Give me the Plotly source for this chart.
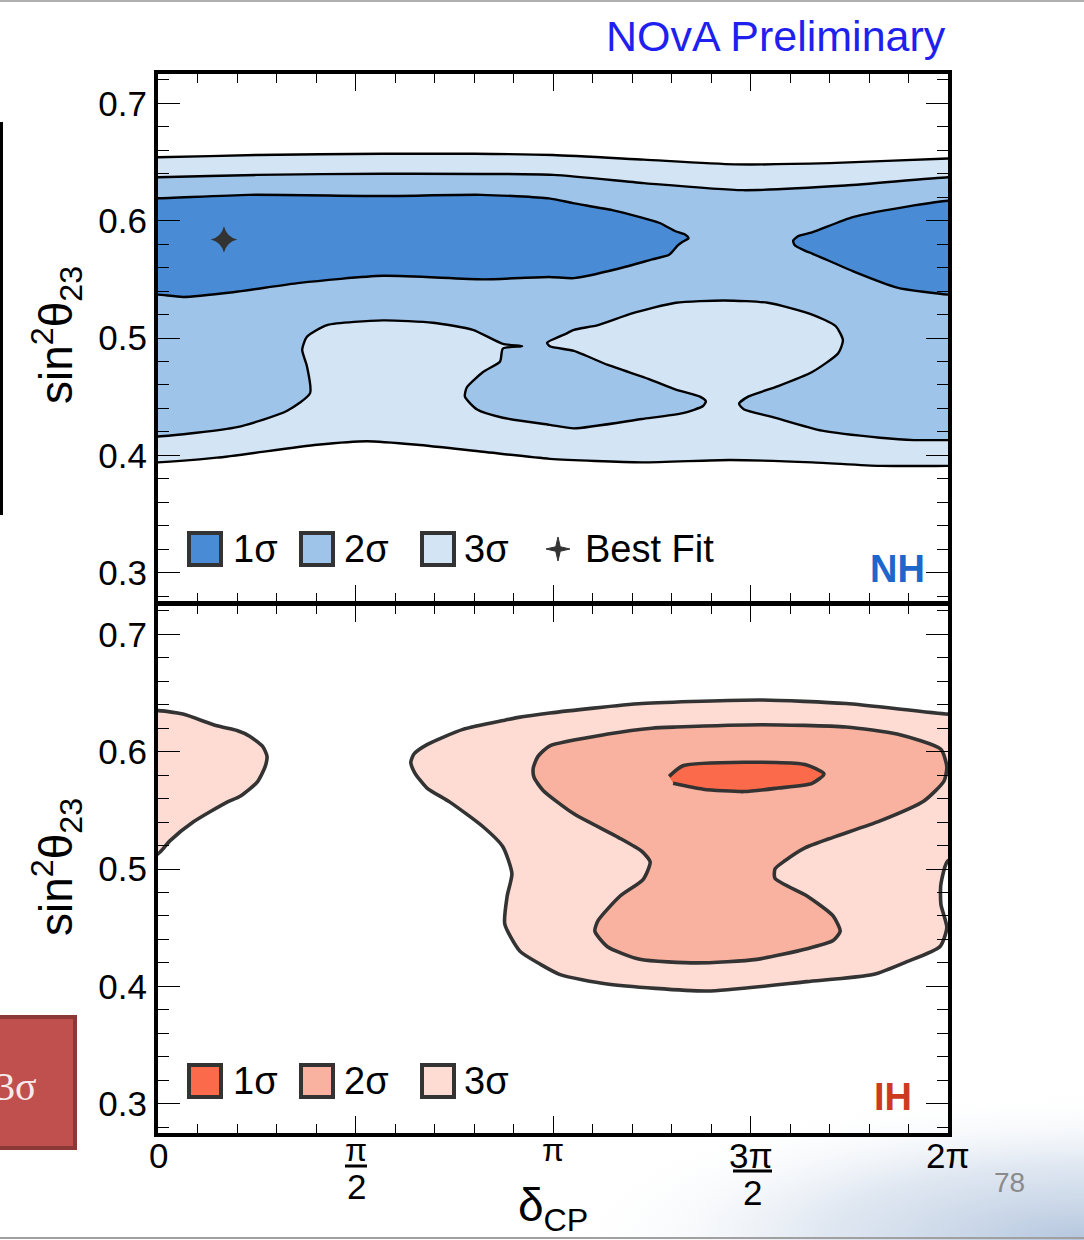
import base64
import math
import plotly.graph_objects as go

W, H = 1084, 1240

# ---------------- data (delta_CP in units of pi, sin^2 theta_23) ----------------
# Normal hierarchy
NH_3SIG_LOW_X = [0.0, 0.149, 0.403, 0.529, 0.656, 0.823, 0.992, 1.225, 1.448, 1.656, 1.828, 2.0]
NH_3SIG_LOW_Y = [0.394, 0.398, 0.409, 0.412, 0.409, 0.403, 0.397, 0.394, 0.396, 0.394, 0.391, 0.391]
NH_3SIG_UP_X = [0.0, 0.25, 0.57, 0.80, 1.0, 1.23, 1.46, 1.70, 2.0]
NH_3SIG_UP_Y = [0.654, 0.656, 0.657, 0.657, 0.656, 0.652, 0.648, 0.649, 0.653]

NH_2SIG_UP_X = [0.0, 0.25, 0.57, 1.0, 1.23, 1.48, 1.74, 2.0]
NH_2SIG_UP_Y = [0.637, 0.639, 0.640, 0.639, 0.632, 0.626, 0.630, 0.637]
NH_2SIG_LOW_X = [0.0, 0.200, 0.327, 0.385, 0.377, 0.365, 0.377, 0.428, 0.570, 0.696, 0.797, 0.873, 0.922,
                 0.873, 0.866, 0.823, 0.782, 0.777, 0.808, 0.873, 0.992, 1.053, 1.225, 1.329, 1.380, 1.387,
                 1.372, 1.311, 1.243, 1.139, 1.053, 0.992, 0.985,
                 1.035, 1.053, 1.114, 1.200, 1.311, 1.433, 1.544, 1.656, 1.716, 1.734, 1.722, 1.656, 1.570,
                 1.494, 1.471, 1.484, 1.552, 1.681, 1.828, 1.914, 2.0]
NH_2SIG_LOW_Y = [0.416, 0.424, 0.438, 0.453, 0.476, 0.490, 0.501, 0.511, 0.515, 0.513, 0.507, 0.495, 0.493,
                 0.491, 0.480, 0.471, 0.458, 0.450, 0.439, 0.432, 0.426, 0.423, 0.431, 0.436, 0.442, 0.446,
                 0.450, 0.456, 0.465, 0.477, 0.489, 0.493, 0.496,
                 0.504, 0.507, 0.511, 0.521, 0.530, 0.532, 0.530, 0.520, 0.510, 0.498, 0.487, 0.471, 0.459,
                 0.450, 0.444, 0.439, 0.433, 0.421, 0.415, 0.413, 0.413]

NH_1SIG_L_X = [0.0, 0.23, 0.57, 0.82, 0.99, 1.05, 1.15, 1.22, 1.27, 1.31, 1.335, 1.343,
               1.328, 1.316, 1.294, 1.251, 1.165, 1.053, 0.99, 0.823, 0.570, 0.359, 0.190, 0.063, 0.0]
NH_1SIG_L_Y = [0.619, 0.622, 0.621, 0.622, 0.619, 0.615, 0.609, 0.603, 0.598, 0.591, 0.588, 0.585,
               0.582, 0.579, 0.571, 0.567, 0.559, 0.551, 0.552, 0.550, 0.553, 0.547, 0.539, 0.535, 0.537]
NH_1SIG_R_X = [2.0, 1.914, 1.759, 1.656, 1.622, 1.608, 1.612, 1.640, 1.656, 1.759, 1.871, 2.0]
NH_1SIG_R_Y = [0.617, 0.613, 0.603, 0.590, 0.587, 0.583, 0.579, 0.574, 0.572, 0.557, 0.543, 0.537]

NH_BEST_X = [0.167]
NH_BEST_Y = [0.584]

# Inverted hierarchy
IH_3SIG_L_X = [0.0, 0.063, 0.149, 0.200, 0.233, 0.266, 0.276, 0.271, 0.251, 0.208, 0.175, 0.089, 0.030, 0.0]
IH_3SIG_L_Y = [0.635, 0.632, 0.622, 0.618, 0.613, 0.604, 0.596, 0.587, 0.574, 0.562, 0.557, 0.540, 0.524, 0.513]
IH_3SIG_M_X = [0.909, 0.992, 1.225, 1.527, 1.742, 2.0,
               2.0, 1.982, 1.982, 1.997, 1.980, 1.896, 1.810, 1.643, 1.390, 1.137, 1.018, 0.967, 0.916,
               0.878, 0.884, 0.896, 0.873, 0.823, 0.739, 0.681, 0.650, 0.640, 0.648, 0.681, 0.772, 0.880]
IH_3SIG_M_Y = [0.629, 0.633, 0.641, 0.644, 0.641, 0.632,
               0.507, 0.487, 0.470, 0.450, 0.434, 0.421, 0.410, 0.404, 0.396, 0.402, 0.410, 0.419, 0.430,
               0.453, 0.477, 0.496, 0.519, 0.536, 0.557, 0.569, 0.582, 0.591, 0.598, 0.606, 0.619, 0.627]
IH_2SIG_X = [1.311, 1.527, 1.742, 1.871, 1.982, 1.997, 1.99,
             1.939, 1.828, 1.709, 1.638, 1.587, 1.562, 1.562, 1.643, 1.709, 1.727, 1.709, 1.643, 1.516,
             1.365, 1.220, 1.137, 1.106, 1.114, 1.170, 1.228, 1.246, 1.225, 1.165, 1.053, 0.975, 0.952,
             0.950, 0.962, 0.992, 1.139, 1.250]
IH_2SIG_Y = [0.621, 0.623, 0.621, 0.615, 0.602, 0.587, 0.575,
             0.558, 0.541, 0.527, 0.518, 0.507, 0.500, 0.492, 0.477, 0.460, 0.447, 0.439, 0.432, 0.423,
             0.420, 0.423, 0.434, 0.447, 0.456, 0.477, 0.491, 0.506, 0.515, 0.527, 0.547, 0.567, 0.578,
             0.586, 0.596, 0.605, 0.615, 0.620]
IH_1SIG_X = [1.294, 1.329, 1.484, 1.638, 1.686, 1.656, 1.570, 1.484, 1.380, 1.304]
IH_1SIG_Y = [0.579, 0.588, 0.591, 0.589, 0.581, 0.573, 0.569, 0.566, 0.568, 0.573]

X_TICKS = [0, 0.5, 1, 1.5, 2]
Y_TICKS = [0.3, 0.4, 0.5, 0.6, 0.7]
Y_TICK_TEXT = ["0.3", "0.4", "0.5", "0.6", "0.7"]
LEGEND_LABELS = ["1σ", "2σ", "3σ"]
NH_COLORS = ["#4a8bd5", "#9fc4e9", "#d3e4f5"]
IH_COLORS = ["#fb6a4a", "#fab2a0", "#fedbd3"]

FONT = "Liberation Sans, Arial, Helvetica, sans-serif"
X_MIN, X_MAX = 0.0, 2.0


def px(x):
    return x / W


def py(y):
    return 1 - y / H


def on_edge(v):
    return v <= X_MIN or v >= X_MAX


def outward(v):
    return X_MIN - 0.06 if v <= X_MIN else X_MAX + 0.06


def extend_edges(xs, ys):
    # add a copy just outside the frame next to every edge point, so that the
    # outline continues straight out of the plot and the frame hides the seam
    n = len(xs)
    ox, oy = [], []
    for i in range(n):
        x, y = xs[i], ys[i]
        if not on_edge(x):
            ox.append(x); oy.append(y)
            continue
        prev_in = not on_edge(xs[(i - 1) % n])
        next_in = not on_edge(xs[(i + 1) % n])
        if prev_in and next_in:
            ox.append(x); oy.append(y)
        elif prev_in:
            ox += [x, outward(x)]; oy += [y, y]
        elif next_in:
            ox += [outward(x), x]; oy += [y, y]
        else:
            ox.append(outward(x)); oy.append(y)
    return ox, oy


fig = go.Figure()


def poly(xs, ys, fill, lc, lw, xa, ya):
    ex, ey = extend_edges(xs, ys)
    fig.add_trace(go.Scatter(
        x=ex, y=ey, fill="toself", fillcolor=fill, mode="lines",
        line=dict(color=lc, width=lw, shape="spline", smoothing=0.6),
        xaxis=xa, yaxis=ya, hoverinfo="skip", showlegend=False))


# NH panel (top)
poly(NH_3SIG_LOW_X + NH_3SIG_UP_X[::-1], NH_3SIG_LOW_Y + NH_3SIG_UP_Y[::-1], NH_COLORS[2], "black", 2.4, "x", "y")
poly(NH_2SIG_LOW_X + NH_2SIG_UP_X[::-1], NH_2SIG_LOW_Y + NH_2SIG_UP_Y[::-1], NH_COLORS[1], "black", 2.4, "x", "y")
poly(NH_1SIG_L_X, NH_1SIG_L_Y, NH_COLORS[0], "black", 2.4, "x", "y")
poly(NH_1SIG_R_X, NH_1SIG_R_Y, NH_COLORS[0], "black", 2.4, "x", "y")
fig.add_trace(go.Scatter(x=NH_BEST_X, y=NH_BEST_Y, mode="markers",
                         marker=dict(symbol="star-diamond", size=19, color="#333333"),
                         xaxis="x", yaxis="y", hoverinfo="skip", showlegend=False))

# IH panel (bottom)
poly(IH_3SIG_L_X, IH_3SIG_L_Y, IH_COLORS[2], "#333333", 3.6, "x2", "y2")
poly(IH_3SIG_M_X + IH_3SIG_M_X[:1], IH_3SIG_M_Y + IH_3SIG_M_Y[:1], IH_COLORS[2], "#333333", 3.6, "x2", "y2")
poly(IH_2SIG_X + IH_2SIG_X[:1], IH_2SIG_Y + IH_2SIG_Y[:1], IH_COLORS[1], "#333333", 3.6, "x2", "y2")
poly(IH_1SIG_X, IH_1SIG_Y, IH_COLORS[0], "#333333", 3.6, "x2", "y2")

xcommon = dict(range=[X_MIN, X_MAX], showline=True, linewidth=4, linecolor="black", mirror="ticks",
               ticks="inside", tickvals=X_TICKS, ticklen=17, tickwidth=1.3, tickcolor="black",
               showticklabels=False, showgrid=False, zeroline=False, fixedrange=True,
               minor=dict(dtick=0.1, tick0=0, ticks="inside", ticklen=9, tickwidth=1.3,
                          tickcolor="black", showgrid=False),
               domain=[px(158), px(948)])
ycommon = dict(range=[0.275, 0.725], showline=True, linewidth=4, linecolor="black", mirror="ticks",
               ticks="inside", tickvals=Y_TICKS, ticktext=Y_TICK_TEXT, ticklen=22, tickwidth=1.3,
               tickcolor="black", showgrid=False, zeroline=False, fixedrange=True,
               tickfont=dict(family=FONT, size=35, color="black"),
               minor=dict(dtick=0.02, tick0=0.3, ticks="inside", ticklen=11, tickwidth=1.3,
                          tickcolor="black", showgrid=False))

fig.update_layout(
    width=W, height=H, margin=dict(l=0, r=0, t=0, b=0),
    paper_bgcolor="white", plot_bgcolor="white", showlegend=False,
    xaxis=dict(xcommon, anchor="y"),
    yaxis=dict(ycommon, anchor="x", domain=[py(602), py(74)]),
    xaxis2=dict(xcommon, anchor="y2"),
    yaxis2=dict(ycommon, anchor="x2", domain=[py(1133), py(605)]),
)

ann = []
shapes = []


def text(x, y, s, size, color="black", xanchor="center", angle=0, family=FONT):
    ann.append(dict(x=px(x), y=py(y), xref="paper", yref="paper", text=s, showarrow=False,
                    xanchor=xanchor, yanchor="middle", textangle=angle,
                    font=dict(family=family, size=size, color=color)))


text(948, 36, "NOvA Preliminary", 43, color="#1f1fef", xanchor="right")
text(56, 335, "sin<sup>2</sup>θ<sub>23</sub>", 46, angle=-90)
text(56, 867, "sin<sup>2</sup>θ<sub>23</sub>", 46, angle=-90)
text(927, 569, "<b>NH</b>", 38, color="#1e66cc", xanchor="right")
text(914, 1097, "<b>IH</b>", 38, color="#cc3b1f", xanchor="right")

# x tick labels
text(158, 1155, "0", 35)
text(356, 1150, "π", 32)
text(356, 1186, "2", 35)
text(553, 1150, "π", 32)
text(751, 1155, "3π", 35)
text(752, 1192, "2", 35)
text(948, 1155, "2π", 35)
shapes.append(dict(type="line", xref="paper", yref="paper", x0=px(345), x1=px(367), y0=py(1166), y1=py(1166),
                   line=dict(color="black", width=3)))
shapes.append(dict(type="line", xref="paper", yref="paper", x0=px(733), x1=px(772), y0=py(1171), y1=py(1171),
                   line=dict(color="black", width=3)))
text(553, 1208, "δ<sub>CP</sub>", 46)

# legends
for cy, colors in ((549, NH_COLORS), (1081, IH_COLORS)):
    for bx, tx, col, lab in zip((189, 301, 422), (231, 342, 462), colors, LEGEND_LABELS):
        shapes.append(dict(type="rect", xref="paper", yref="paper", x0=px(bx), x1=px(bx + 32),
                           y0=py(cy + 16), y1=py(cy - 16), fillcolor=col,
                           line=dict(color="#333333", width=4)))
        text(tx, cy, lab, 38, xanchor="left")
# legend star
cx, cy0, ro, ri = 558, 549, 12, 3.2
pts = []
for k in range(8):
    a = math.pi / 2 + k * math.pi / 4
    r = ro if k % 2 == 0 else ri
    pts.append((cx + r * math.cos(a), cy0 - r * math.sin(a)))
path = "M " + " L ".join(f"{px(a):.5f},{py(b):.5f}" for a, b in pts) + " Z"
shapes.append(dict(type="path", xref="paper", yref="paper", path=path, fillcolor="#333333",
                   line=dict(color="#333333", width=1)))
text(583, 549, "Best Fit", 38, xanchor="left")

# slide decorations
shapes.append(dict(type="line", xref="paper", yref="paper", x0=0, x1=1, y0=py(1), y1=py(1),
                   line=dict(color="#b0b0b0", width=2)))
shapes.append(dict(type="line", xref="paper", yref="paper", x0=0, x1=1, y0=py(1238), y1=py(1238),
                   line=dict(color="#a0a0a0", width=2)))
shapes.append(dict(type="rect", xref="paper", yref="paper", x0=0, x1=px(3), y0=py(515), y1=py(122),
                   fillcolor="black", line=dict(width=0)))
shapes.append(dict(type="rect", xref="paper", yref="paper", x0=px(-4), x1=px(75), y0=py(1148), y1=py(1017),
                   fillcolor="#c0504d", line=dict(color="#8c3836", width=4)))
text(16, 1086, "3σ", 40, color="#f6eaea", family="Liberation Serif, Times New Roman, serif")
text(1009, 1182, "78", 28, color="#8a8a8a")

svg = ("<svg xmlns='http://www.w3.org/2000/svg' width='520' height='150' preserveAspectRatio='none'>"
       "<defs><radialGradient id='g' cx='1' cy='1' r='1' fx='1' fy='1'>"
       "<stop offset='0' stop-color='#b4c6de' stop-opacity='1'/>"
       "<stop offset='0.5' stop-color='#cad7e8' stop-opacity='0.6'/>"
       "<stop offset='1' stop-color='#ffffff' stop-opacity='0'/></radialGradient></defs>"
       "<rect width='520' height='150' fill='url(#g)'/></svg>")
src = "data:image/svg+xml;base64," + base64.b64encode(svg.encode()).decode()
fig.update_layout(images=[dict(source=src, xref="paper", yref="paper", x=px(564), y=py(1090),
                               sizex=px(520), sizey=150 / H, xanchor="left", yanchor="top",
                               sizing="stretch", layer="below")])

fig.update_layout(annotations=ann, shapes=shapes)
fig.write_html("out.html")
